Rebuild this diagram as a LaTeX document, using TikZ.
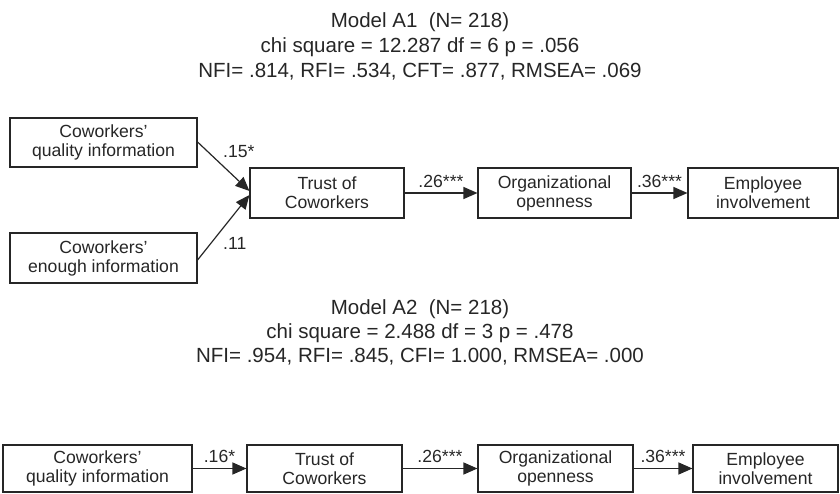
\documentclass[tikz,border=0pt]{standalone}
\usepackage{fontspec}
\setmainfont{Liberation Sans}
\usetikzlibrary{arrows.meta}
\begin{document}
\begin{tikzpicture}[x=1pt,y=-1pt,
  box/.style={draw=black!85,line width=1.1pt,align=center,inner sep=0pt,
    font=\fontsize{17.6}{19}\selectfont,text=black!85},
  title/.style={anchor=base,font=\fontsize{20.5}{24}\selectfont,text=black!85,inner sep=0pt},
  lbl/.style={font=\fontsize{17.6}{19}\selectfont,text=black!85,inner sep=0pt},
  arr/.style={line width=1.2pt,draw=black!85,-{Triangle[length=14pt,width=12pt]}}]
\useasboundingbox (0,0) rectangle (840,494);
% Model A1 header
\node[title] (h1a) at (420,27.5) {Model A1\ \ (N= 218)};
\node[title] (h1b) at (420,52.5) {chi square = 12.287 df = 6 p = .056};
\node[title] (h1c) at (420,77.5) {NFI= .814, RFI= .534, CFT= .877, RMSEA= .069};
% Model A1 boxes
\node[box,minimum width=187pt,minimum height=49pt] (q1) at (103.5,142.5) {Coworkers’\\quality information};
\node[box,minimum width=187pt,minimum height=50pt] (e1) at (103.5,258) {Coworkers’\\enough information};
\node[box,minimum width=154pt,minimum height=50pt] (t1) at (327,193) {Trust of\\Coworkers};
\node[box,minimum width=153pt,minimum height=50pt] (o1) at (554.5,193) {Organizational\\openness};
\node[box,minimum width=150pt,minimum height=50pt] (m1) at (763,193) {Employee\\involvement};
\draw[arr] (q1.east |- 0,142) -- (t1.west |- 0,191);
\draw[arr] (e1.east |- 0,260) -- (t1.west |- 0,195);
\draw[arr] (t1) -- (o1);
\draw[arr] (o1) -- (m1);
\node[lbl,anchor=base west] (l15) at (223,158) {.15*};
\node[lbl,anchor=base west] (l11) at (223,250) {.11};
\node[lbl,anchor=base] (l26a) at (441,188) {.26***};
\node[lbl,anchor=base] (l36a) at (659.5,188) {.36***};
% Model A2 header
\node[title] (h2a) at (420,314.5) {Model A2\ \ (N= 218)};
\node[title] (h2b) at (420,338.5) {chi square = 2.488 df = 3 p = .478};
\node[title] (h2c) at (420,362.5) {NFI= .954, RFI= .845, CFI= 1.000, RMSEA= .000};
% Model A2 boxes
\node[box,minimum width=189pt,minimum height=47pt] (q2) at (97.5,468.5) {Coworkers’\\quality information};
\node[box,minimum width=155pt,minimum height=47pt] (t2) at (324.5,468.5) {Trust of\\Coworkers};
\node[box,minimum width=155pt,minimum height=47pt] (o2) at (555.5,468.5) {Organizational\\openness};
\node[box,minimum width=145pt,minimum height=47pt] (m2) at (765.5,468.5) {Employee\\involvement};
\draw[arr] (q2) -- (t2);
\draw[arr] (t2) -- (o2);
\draw[arr] (o2) -- (m2);
\node[lbl,anchor=base] (l16) at (219.5,462) {.16*};
\node[lbl,anchor=base] (l26b) at (440,462) {.26***};
\node[lbl,anchor=base] (l36b) at (663,462) {.36***};
\end{tikzpicture}
\end{document}
